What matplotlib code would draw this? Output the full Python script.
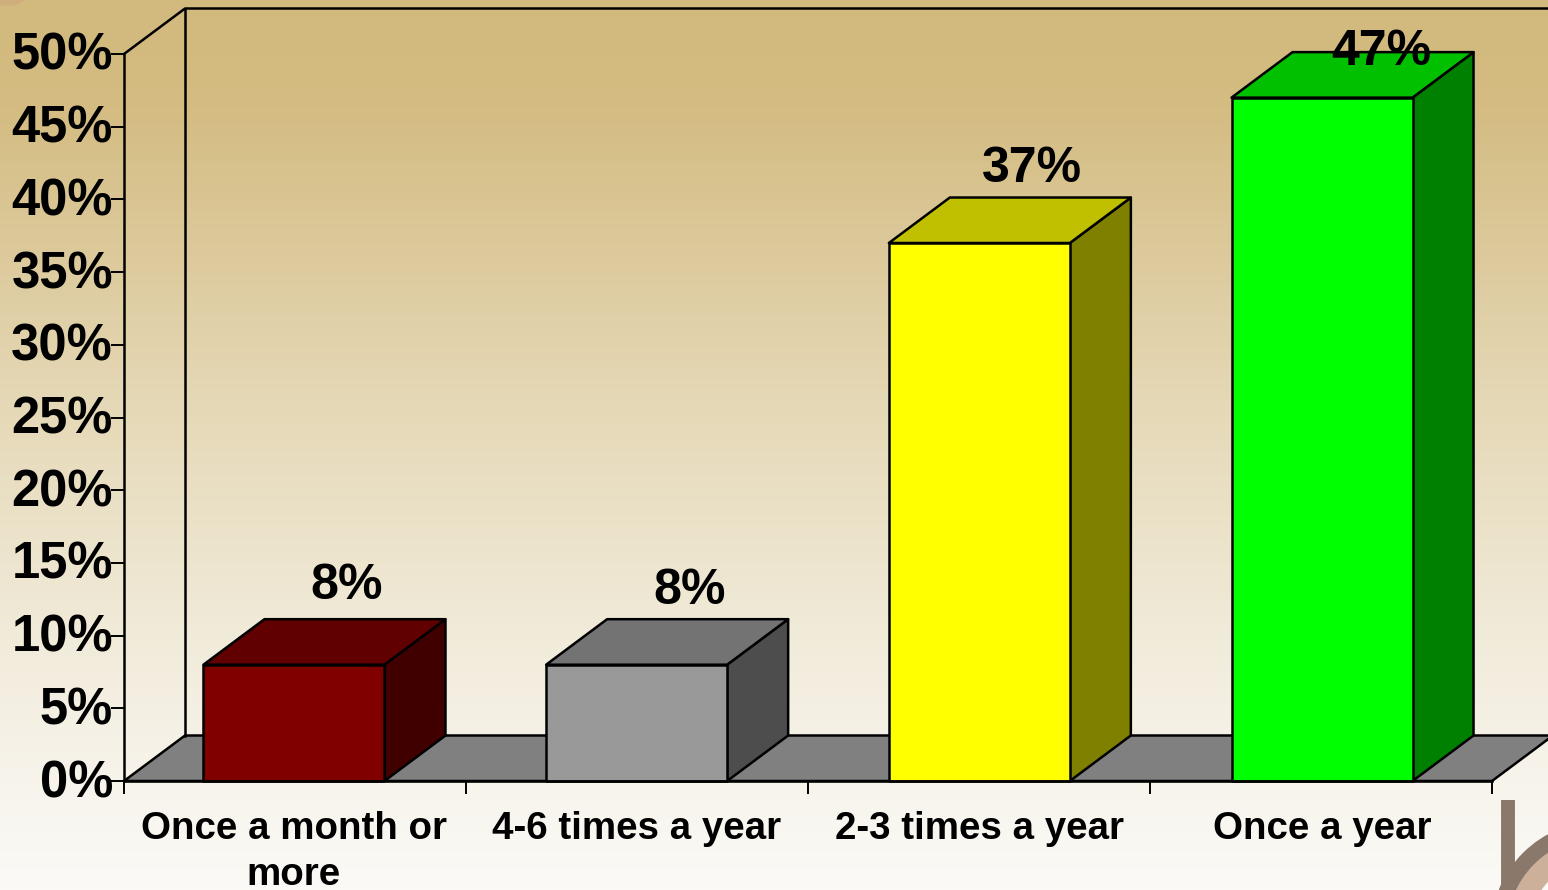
import numpy as np
import matplotlib
matplotlib.use("Agg")
import matplotlib.pyplot as plt
from matplotlib.patches import Polygon, Ellipse
from matplotlib.colors import LinearSegmentedColormap
from matplotlib.transforms import ScaledTranslation

categories = ["Once a month or\nmore", "4-6 times a year", "2-3 times a year", "Once a year"]
values = [8, 8, 37, 47]
value_labels = ["8%", "8%", "37%", "47%"]
y_ticks = [0, 5, 10, 15, 20, 25, 30, 35, 40, 45, 50]
front_colors = ["#800000", "#999999", "#FFFF00", "#00FF00"]
side_colors = ["#400000", "#4D4D4D", "#808000", "#008000"]
top_colors = ["#600000", "#737373", "#C0C000", "#00C000"]
label_lift_px = [33, 28, 29, 0]
label_shift_px = [0, 0, 0, 6]

W, H = 1548, 890
L, R, T, B = 124, 1492, 54, 781
DX_PX, DY_PX = 61, 45.5
BAR_W = 181 / 342

plt.rcParams['font.family'] = ['Liberation Sans', 'DejaVu Sans']
fig = plt.figure(figsize=(W / 100, H / 100), dpi=100)

# background
bg = fig.add_axes([0, 0, 1, 1], zorder=0)
bg.set_xlim(0, W); bg.set_ylim(H, 0); bg.axis("off")
cmap = LinearSegmentedColormap.from_list("bg", [(0, "#D2B97D"), (0.12, "#D4BC82"), (0.45, "#E5D8B6"),
                                                 (0.72, "#F1EBDA"), (0.9, "#F8F5EE"), (1, "#FBFAF6")])
bg.imshow(np.linspace(0, 1, 256)[:, None], aspect="auto", cmap=cmap, extent=[0, W, H, 0], zorder=0)
bg.add_patch(Ellipse((1600, 930), 164, 164, fill=False, ec="#CDB09A", lw=16, zorder=1))
bg.add_patch(Ellipse((1600, 930), 202, 202, fill=False, ec="#8A786B", lw=11.5, zorder=1))
bg.plot([1508, 1508], [800, 890], color="#8A786B", lw=10, solid_capstyle="butt", zorder=2)
bg.add_patch(Ellipse((8, -4), 34, 18, color="#CFAE7C", zorder=1))
bg.set_xlim(0, W); bg.set_ylim(H, 0)

ax = fig.add_axes([L / W, 1 - B / H, (R - L) / W, (B - T) / H], zorder=1)
ax.patch.set_alpha(0)
ax.set_xlim(0, 4)
ax.set_ylim(0, 50)
dx = DX_PX / (R - L) * 4
dy = DY_PX / (B - T) * 50
LW = 1.8
poly = dict(ec="black", lw=LW, clip_on=False, joinstyle="round")

# walls and floor
ax.add_patch(Polygon([(0, 0), (dx, dy), (4 + dx, dy), (4, 0)], fc="#808080", zorder=1, **poly))
ax.plot([0, dx, 4.3], [50, 50 + dy, 50 + dy], color="black", lw=LW, clip_on=False, zorder=1)
ax.plot([dx, dx], [dy, 50 + dy], color="black", lw=LW, clip_on=False, zorder=1)

# bars
centers = [0.497 + 1.002 * i for i in range(len(values))]
for i, v in enumerate(values):
    c = centers[i]
    x0, x1 = c - BAR_W / 2, c + BAR_W / 2
    ax.add_patch(Polygon([(x1, 0), (x1 + dx, dy), (x1 + dx, v + dy), (x1, v)], fc=side_colors[i], zorder=2, **poly))
    ax.add_patch(Polygon([(x0, v), (x0 + dx, v + dy), (x1 + dx, v + dy), (x1, v)], fc=top_colors[i], zorder=2, **poly))
    ax.add_patch(Polygon([(x0, 0), (x1, 0), (x1, v), (x0, v)], fc=front_colors[i], zorder=3, **poly))
    ax.annotate(value_labels[i], xy=(c + dx * 0.87, v + dy),
                xytext=(label_shift_px[i] * 0.72, label_lift_px[i] * 0.72),
                textcoords="offset points", ha="center", va="center", fontsize=36, fontweight="bold",
                color="black", zorder=5, annotation_clip=False)

for s in ("top", "right"):
    ax.spines[s].set_visible(False)
for s in ("left", "bottom"):
    ax.spines[s].set_linewidth(LW)
    ax.spines[s].set_zorder(4)

ax.set_yticks(y_ticks)
ax.set_yticklabels([f"{t}%" for t in y_ticks], fontsize=36.5, fontweight="bold")
ax.tick_params(axis="y", length=9.5, width=1.4, pad=-1.6)
shift = ScaledTranslation(0, 3 / 100, fig.dpi_scale_trans)
for lab in ax.get_yticklabels():
    lab.set_transform(lab.get_transform() + shift)
ax.set_xticks(range(5))
ax.set_xticklabels([])
ax.tick_params(axis="x", which="major", length=9.5, width=1.4)
ax.set_xticks(centers, minor=True)
ax.set_xticklabels(categories, minor=True, fontsize=27.7, fontweight="bold", linespacing=1.37)
ax.tick_params(axis="x", which="minor", length=0, pad=21.5)

fig.savefig("out.png", dpi=100)
